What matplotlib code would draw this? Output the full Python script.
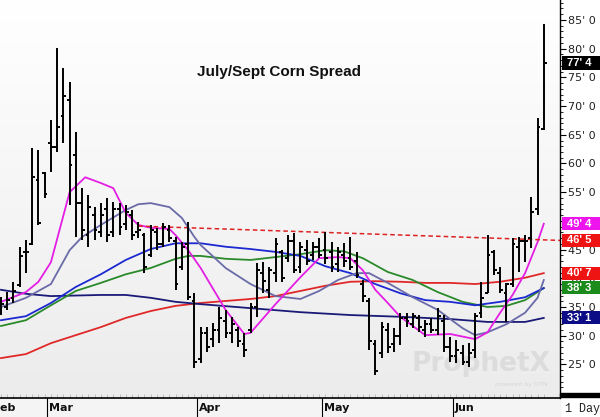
import numpy as np
import matplotlib
matplotlib.use('Agg')
import matplotlib.pyplot as plt
from matplotlib.patches import Rectangle
import matplotlib.transforms as mtransforms

# daily OHLC bars of the July/Sept corn spread (cents), late Feb -> late Jun
opens = [34.5, 35.0, 36.5, 38.8, 44.6, 46.0, 57.1, 58.3, 63.6, 62.9,
         68.2, 71.0, 61.5, 53.1, 47.5, 51.0, 48.0, 52.0, 48.0, 52.0,
         49.5, 51.0, 48.0, 47.5, 44.0, 48.0, 46.0, 48.5, 46.5, 42.0,
         46.0, 36.0, 26.0, 30.5, 29.5, 31.0, 32.5, 30.5, 31.0, 28.5,
         31.0, 35.0, 41.0, 38.0, 41.0, 44.5, 43.5, 46.5, 42.0, 45.0,
         44.0, 45.5, 45.0, 44.5, 42.5, 44.0, 43.5, 43.0, 39.0, 36.0,
         28.5, 27.0, 31.0, 28.5, 30.0, 33.0, 32.0, 33.0, 31.0, 32.0,
         31.0, 32.5, 28.0, 26.5, 27.0, 25.5, 27.5, 34.0, 37.5, 44.5,
         41.0, 37.5, 39.0, 45.5, 46.5, 47.0, 52.0, 66.0]
highs = [36.7, 37.6, 39.4, 45.5, 46.7, 62.7, 62.4, 58.5, 67.6, 80.1,
         76.6, 74.2, 65.5, 55.7, 54.5, 52.4, 53.1, 54.0, 53.3, 53.1,
         52.8, 51.9, 49.8, 47.9, 49.3, 48.8, 49.6, 49.3, 47.2, 46.3,
         49.8, 37.4, 31.5, 31.5, 32.2, 35.0, 34.5, 33.3, 31.5, 30.5,
         35.7, 42.7, 42.8, 42.0, 47.0, 44.9, 47.5, 47.9, 46.3, 46.7,
         46.3, 47.0, 48.1, 46.3, 45.5, 46.1, 47.2, 44.6, 39.7, 36.6,
         29.3, 32.4, 32.2, 31.3, 34.0, 34.0, 34.0, 33.6, 32.7, 33.1,
         34.8, 33.6, 29.8, 29.3, 28.4, 28.7, 34.0, 39.4, 47.5, 44.9,
         42.0, 39.2, 47.0, 47.2, 47.5, 54.2, 67.9, 84.3]
lows = [33.6, 34.5, 35.7, 38.5, 40.9, 45.8, 49.3, 54.0, 58.5, 62.0,
        63.6, 52.8, 47.2, 46.7, 45.5, 46.7, 47.2, 46.3, 47.2, 47.5,
        48.4, 46.7, 47.0, 40.9, 43.7, 44.9, 45.5, 46.3, 38.0, 41.4,
        36.2, 24.4, 25.2, 27.2, 28.0, 28.7, 29.6, 28.7, 28.0, 26.3,
        30.5, 33.3, 37.4, 36.5, 39.4, 39.4, 42.8, 40.9, 40.9, 42.3,
        43.2, 43.5, 42.5, 41.1, 41.1, 42.0, 41.4, 40.0, 35.9, 27.5,
        23.2, 26.1, 27.0, 27.2, 28.4, 31.5, 31.3, 30.6, 29.8, 30.5,
        30.1, 27.2, 25.4, 25.2, 24.9, 24.5, 26.1, 33.1, 37.4, 40.6,
        37.4, 32.4, 38.5, 41.1, 42.8, 45.3, 51.0, 65.8]
closes = [35.5, 36.2, 37.8, 43.9, 44.6, 57.6, 49.6, 54.7, 62.9, 66.4,
          71.8, 59.7, 53.1, 48.5, 52.5, 48.5, 51.0, 47.5, 52.0, 49.0,
          51.5, 47.5, 48.5, 42.0, 48.5, 46.0, 49.0, 47.0, 39.0, 45.5,
          36.8, 25.5, 30.5, 28.0, 31.0, 33.0, 30.5, 32.0, 29.0, 27.5,
          35.0, 41.5, 39.5, 41.5, 46.0, 40.0, 46.5, 41.5, 45.5, 43.0,
          45.5, 44.0, 43.5, 42.0, 44.5, 43.0, 42.0, 40.5, 37.0, 29.0,
          23.8, 31.5, 28.0, 30.0, 33.0, 32.5, 33.5, 31.5, 32.0, 31.0,
          33.5, 28.0, 26.5, 27.5, 25.5, 27.0, 33.5, 36.5, 44.0, 41.5,
          38.0, 39.0, 46.0, 46.5, 46.5, 51.5, 66.4, 77.5]

# moving averages at selected bars
magenta_x = [0, 4, 6, 8, 11, 13.5, 16, 18, 20, 22, 24, 27, 28, 30, 32, 36,
             39, 40, 44, 48, 51, 54, 56, 58, 60, 62, 64, 68, 72, 76, 78,
             80, 82, 84, 86, 87]
magenta_y = [35.9, 37.6, 39.4, 42.8, 55.0, 57.6, 56.6, 55.7, 51.4, 49.3,
             48.8, 48.6, 47.5, 44.9, 41.8, 34.5, 30.3, 30.5, 35.5, 40.2,
             43.5, 43.7, 43.5, 41.4, 38.0, 35.7, 33.3, 30.1, 30.3, 29.4,
             30.6, 34.0, 37.1, 40.9, 46.3, 49.5]
slate_x = [0, 4, 8, 11, 13, 16, 20, 22, 24, 27, 29, 31, 32, 36, 40, 44, 48,
           51, 54, 57, 59, 62, 66, 70, 74, 76, 78, 81, 84, 86, 87]
slate_y = [35.0, 36.6, 39.0, 44.9, 47.2, 49.3, 51.9, 52.9, 53.1, 52.4, 50.5,
           47.2, 45.8, 41.8, 39.0, 36.9, 36.4, 37.8, 39.7, 40.9, 40.9, 39.2,
           36.7, 34.5, 31.3, 30.1, 30.6, 32.0, 34.0, 36.6, 39.7]
blue_x = [0, 4, 8, 12, 16, 20, 24, 28, 32, 36, 40, 44, 48, 52, 56, 60, 64,
          68, 72, 76, 80, 84, 87]
blue_y = [32.7, 33.4, 35.7, 38.5, 40.7, 43.2, 45.1, 46.1, 46.1, 45.5, 45.1,
          44.6, 43.9, 42.1, 40.9, 39.0, 37.4, 36.2, 35.9, 35.3, 35.9, 36.7,
          38.3]
green_x = [0, 4, 8, 12, 16, 20, 24, 28, 30, 32, 36, 40, 44, 48, 52, 55, 58,
           62, 66, 70, 74, 78, 81, 84, 87]
green_y = [31.7, 32.7, 35.3, 37.8, 39.2, 40.7, 41.8, 43.4, 43.9, 43.9, 43.4,
           43.2, 43.7, 44.2, 44.9, 44.7, 43.5, 41.1, 39.7, 37.6, 35.9, 35.0,
           35.2, 36.2, 38.3]
red_x = [0, 4, 8, 12, 16, 20, 24, 28, 32, 40, 44, 48, 52, 56, 60, 64, 68,
         72, 76, 80, 84, 87]
red_y = [26.1, 26.8, 28.7, 30.1, 31.5, 33.1, 34.3, 35.2, 35.7, 36.4, 36.9,
         37.8, 38.7, 39.4, 39.5, 39.4, 39.2, 39.2, 39.0, 39.4, 40.1, 40.9]
navy_x = [0, 4, 8, 16, 20, 24, 28, 32, 40, 48, 56, 64, 72, 78, 84, 87]
navy_y = [38.0, 37.3, 36.9, 37.1, 37.1, 36.6, 35.9, 35.5, 34.8, 34.1, 33.6,
          33.3, 32.9, 32.4, 32.4, 33.1]

# dashed resistance line
trend_x = [22, 89.6]
trend_y = [49.1, 46.6]

months = ['Feb', 'Mar', 'Apr', 'May', 'Jun']
month_start = [-1, 8, 32, 52, 73]

tag_text = ["77' 4", "49' 4", "46' 5", "40' 7", "38' 3", "33' 1"]
tag_vals = [77.5, 49.5, 46.625, 40.875, 38.375, 33.125]
tag_colors = ['black', '#ee14ee', '#ee1414', '#ee1414', '#1b8c1b', '#0c0c86']

fig = plt.figure(figsize=(6, 4.17), dpi=100)
fig.patch.set_facecolor('white')
ax = fig.add_axes([0, 19 / 417, 560 / 600, 398 / 417])

# soft grey gradient background
g = np.linspace(1.0, 0.925, 200).reshape(-1, 1)
ax.imshow(np.dstack([g, g, g]), extent=[0, 1, 0, 1], transform=ax.transAxes,
          aspect='auto', zorder=0)

x = np.arange(len(highs))
ax.vlines(x, lows, highs, color='black', lw=1.4, zorder=3)
ax.hlines(opens, x - 0.45, x, color='black', lw=1.4, zorder=3)
ax.hlines(closes, x, x + 0.45, color='black', lw=1.4, zorder=3)

ax.plot(red_x, red_y, color='#e02828', lw=1.3, zorder=2)
ax.plot(navy_x, navy_y, color='#1a1a78', lw=1.3, zorder=2)
ax.plot(green_x, green_y, color='#2a8a2a', lw=1.3, zorder=2)
ax.plot(blue_x, blue_y, color='#1c28d0', lw=1.3, zorder=2)
ax.plot(slate_x, slate_y, color='#6a6aa8', lw=1.3, zorder=2)
ax.plot(magenta_x, magenta_y, color='#e41ee4', lw=1.3, zorder=2)
ax.plot(trend_x, trend_y, color='#dd2222', lw=1.1, ls=(0, (3, 2)), zorder=2)

ax.set_xlim(-0.16, 89.6)
ax.set_ylim(19.15, 88.48)

ax.text(0.498, 0.819, 'July/Sept Corn Spread', transform=ax.transAxes,
        ha='center', va='center', fontsize=11, fontweight='bold',
        family='Liberation Sans', color='#111111')
ax.text(0.86, 0.085, 'ProphetX', transform=ax.transAxes, ha='center',
        va='center', fontsize=19, fontweight='bold', color='#dcdcdc', zorder=1)
ax.text(0.93, 0.035, 'powered by DTN', transform=ax.transAxes, ha='center',
        va='center', fontsize=4.5, color='#d6d6d6', zorder=1)

# axes styling
for s in ['top', 'left']:
    ax.spines[s].set_visible(False)
ax.spines['right'].set_linewidth(1.0)
ax.spines['bottom'].set_linewidth(1.2)
ax.yaxis.tick_right()
ax.set_yticks(np.arange(25, 86, 5))
ax.set_yticks(np.arange(20, 89, 1), minor=True)
ax.set_yticklabels(["%d' 0" % v for v in np.arange(25, 86, 5)])
ax.tick_params(axis='y', which='major', length=4, width=0.8, pad=2,
               labelsize=8, labelcolor='#222222')
ax.tick_params(axis='y', which='minor', length=2, width=0.6)
ax.set_xticks([])
ax.set_xticks(x, minor=True)
ax.tick_params(axis='x', which='minor', direction='in', length=3,
               width=0.5, color='#aaaaaa')

# month separators and labels in the band under the plot
trans = mtransforms.blended_transform_factory(ax.transData, ax.transAxes)
for m, st in zip(months, month_start):
    ax.plot([st - 0.6, st - 0.6], [0, -0.048], transform=trans, color='black',
            lw=0.8, clip_on=False)
    ax.text(st - 0.3, -0.024, m, transform=trans, ha='left', va='center',
            fontsize=8, fontweight='bold', color='#111111', clip_on=False)

fig.patches.append(Rectangle((0, 0), 560 / 600, 19 / 417,
                             transform=fig.transFigure, color='#f4f4f4',
                             zorder=-1))
fig.patches.append(Rectangle((560 / 600, 20 / 417), 40 / 600, 4 / 417,
                             transform=fig.transFigure, color='black'))
fig.text(565 / 600, 8 / 417, '1 Day', family='Liberation Mono', fontsize=8.5,
         va='center', ha='left', color='#222222')

# value tags on the price axis
ytr = mtransforms.blended_transform_factory(ax.transAxes, ax.transData)
for t, v, c in zip(tag_text, tag_vals, tag_colors):
    ax.add_patch(Rectangle((1.003, v - 1.15), 0.07, 2.3, transform=ytr,
                           facecolor=c, edgecolor='none', clip_on=False,
                           zorder=5))
    ax.text(1.012, v, t, transform=ytr, ha='left', va='center', fontsize=8,
            fontweight='bold', color='white', family='Liberation Sans',
            clip_on=False, zorder=6)

fig.savefig('out.png', dpi=100)
